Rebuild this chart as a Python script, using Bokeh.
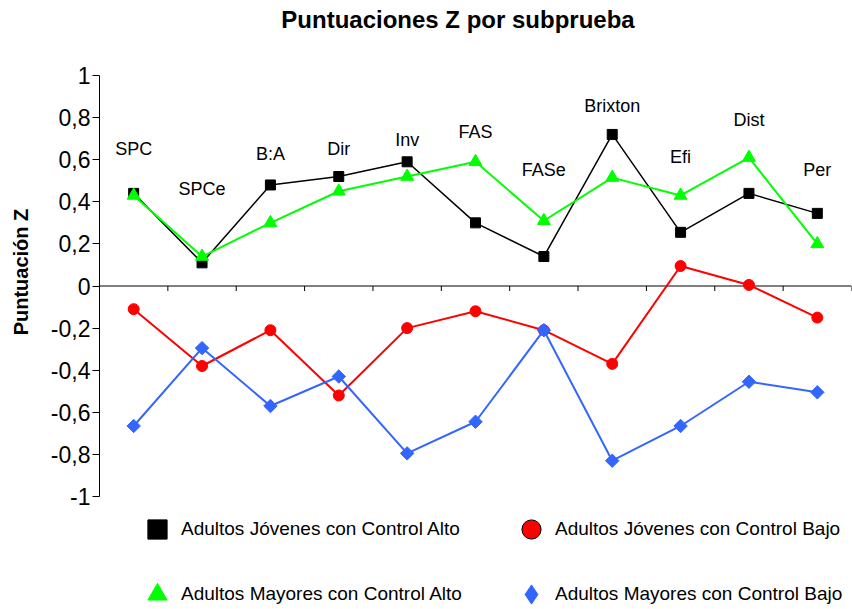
import math
from bokeh.plotting import figure
from bokeh.models import (Range1d, FixedTicker, Legend, LegendItem, Label, LinearAxis,
                          ColumnDataSource)
from bokeh.core.properties import value
from bokeh.embed import file_html
from bokeh.resources import INLINE

# ---- data ----
categories = ["SPC", "SPCe", "B:A", "Dir", "Inv", "FAS", "FASe", "Brixton", "Efi", "Dist", "Per"]
jovenes_alto = [0.44, 0.11, 0.48, 0.52, 0.59, 0.30, 0.14, 0.72, 0.255, 0.44, 0.345]
mayores_alto = [0.43, 0.14, 0.30, 0.45, 0.52, 0.59, 0.31, 0.515, 0.43, 0.61, 0.20]
jovenes_bajo = [-0.11, -0.38, -0.21, -0.52, -0.20, -0.12, -0.21, -0.37, 0.095, 0.005, -0.15]
mayores_bajo = [-0.665, -0.295, -0.57, -0.43, -0.795, -0.645, -0.21, -0.83, -0.665, -0.455, -0.505]
label_heights = [0.65, 0.46, 0.625, 0.65, 0.695, 0.73, 0.55, 0.855, 0.615, 0.79, 0.55]
series_names = ["Adultos Jóvenes con Control Alto", "Adultos Jóvenes con Control Bajo",
                "Adultos Mayores con Control Alto", "Adultos Mayores con Control Bajo"]
y_tick_values = [1.0, 0.8, 0.6, 0.4, 0.2, 0.0, -0.2, -0.4, -0.6, -0.8, -1.0]
y_tick_labels = ["1", "0,8", "0,6", "0,4", "0,2", "0", "-0,2", "-0,4", "-0,6", "-0,8", "-1"]

FONT = "Liberation Sans"
W, H = 852, 609
n = len(categories)

# plot-area geometry (pixels): axes box from x=99..851, y=75 (value 1) .. 496 (value -1)
AX_LEFT, AX_RIGHT = 99, W - 1
AX_TOP, AX_BOTTOM = 75, 496
unit_y = (AX_BOTTOM - AX_TOP) / 2.0
unit_x = (AX_RIGHT - AX_LEFT) / float(n)
y_hi = 1 + AX_TOP / unit_y
y_lo = -1 - (H - AX_BOTTOM) / unit_y
x_lo = 0.5 - AX_LEFT / unit_x
x_hi = n + 0.5

xs = list(range(1, n + 1))
src = ColumnDataSource(dict(x=xs, ja=jovenes_alto, ma=mayores_alto,
                            jb=jovenes_bajo, mb=mayores_bajo))

p = figure(width=W, height=H, output_backend="svg", toolbar_location=None,
           x_range=Range1d(x_lo, x_hi), y_range=Range1d(y_lo, y_hi),
           x_axis_type=None, y_axis_type=None,
           min_border_left=0, min_border_right=1, min_border_top=0, min_border_bottom=0)
p.xgrid.visible = False
p.ygrid.visible = False
p.outline_line_color = None
p.background_fill_color = "white"

# y axis drawn at the left edge of the categories, limited to [-1, 1]
ya = LinearAxis(fixed_location=0.5, bounds=(-1, 1), ticker=FixedTicker(ticks=y_tick_values))
ya.major_label_overrides = {v: l for v, l in zip(y_tick_values, y_tick_labels)}
ya.major_label_text_font = FONT
ya.major_label_text_font_size = "23px"
ya.major_label_text_color = "black"
ya.major_tick_in = 0
ya.major_tick_out = 7
ya.minor_tick_in = 0
ya.minor_tick_out = 0
ya.major_label_standoff = 2
ya.axis_line_color = "black"
ya.major_tick_line_color = "black"
p.add_layout(ya, "left")

# y axis title
p.add_layout(Label(x=20, y=H - 271.5, x_units="screen", y_units="screen",
                   text="Puntuación Z", angle=math.pi / 2, text_align="center",
                   text_baseline="middle", text_font=FONT, text_font_size="20px",
                   text_font_style="bold", text_color="black"))

# chart title
p.add_layout(Label(x=457.5, y=H - 19, x_units="screen", y_units="screen",
                   text="Puntuaciones Z por subprueba", text_align="center",
                   text_baseline="alphabetic", text_font=FONT, text_font_size="24px",
                   text_font_style="bold", text_color="black"))

# x axis line at y = 0 with downward ticks between categories
p.segment(x0=[0.5], y0=[0], x1=[n + 0.5], y1=[0], line_color="black", line_width=1)
boundaries = [i + 0.5 for i in range(n + 1)]
tick_len = 5 / unit_y
p.segment(x0=boundaries, y0=[0] * len(boundaries), x1=boundaries,
          y1=[-tick_len] * len(boundaries), line_color="black", line_width=1)

# series
p.line("x", "ja", source=src, line_color="black", line_width=1.5)
r_ja = p.scatter("x", "ja", source=src, marker="square", size=10, color="black")

p.line("x", "ma", source=src, line_color="#00FF00", line_width=2)
r_ma = p.scatter("x", "ma", source=src, marker="triangle", size=13, color="#00FF00")

p.line("x", "jb", source=src, line_color="#FF0000", line_width=2)
p.scatter("x", "jb", source=src, marker="circle", size=11, color="#FF0000")

p.line("x", "mb", source=src, line_color="#3366FF", line_width=2)
p.scatter("x", "mb", source=src, marker="square", size=9.5, angle=math.pi / 4, color="#3366FF")

# legend-only glyph styles (size 0 in the plot, drawn at legend size in the legend)
r_jb_leg = p.scatter("x", "jb", source=src, marker="circle", size=0,
                     fill_color="#FF0000", line_color="black", line_alpha=1)
r_mb_leg = p.scatter("x", "mb", source=src, marker="diamond", size=0, color="#3366FF")

# category labels
p.text(xs, label_heights, text=categories, text_align="center", text_baseline="middle",
       text_font=value(FONT), text_font_size="18px", text_color="black")

legend = Legend(items=[LegendItem(label=series_names[0], renderers=[r_ja]),
                       LegendItem(label=series_names[1], renderers=[r_jb_leg]),
                       LegendItem(label=series_names[2], renderers=[r_ma]),
                       LegendItem(label=series_names[3], renderers=[r_mb_leg])],
                location=(AX_LEFT + 34, -9), orientation="horizontal", ncols=2,
                glyph_width=48, glyph_height=48, label_standoff=0, label_width=309,
                spacing=17, padding=0, margin=0, border_line_color=None,
                background_fill_alpha=0, label_text_font=FONT, label_text_font_size="19px",
                label_text_color="black")
p.add_layout(legend)

open("out.html", "w").write(file_html(p, INLINE))
